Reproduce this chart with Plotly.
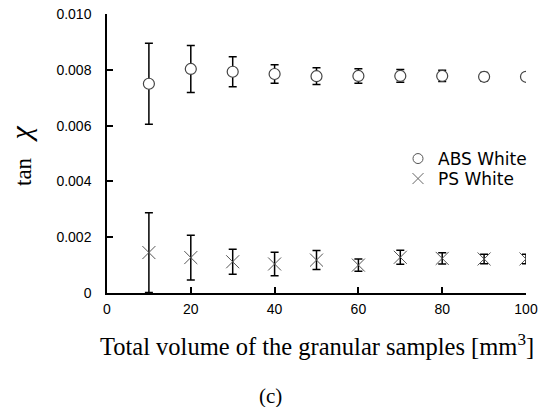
import plotly.graph_objects as go

volume = [10, 20, 30, 40, 50, 60, 70, 80, 90, 100]
abs_white = [0.00750, 0.00803, 0.00793, 0.00785, 0.00777, 0.00778, 0.00778, 0.00778, 0.00775, 0.00775]
abs_err = [0.00145, 0.00084, 0.00054, 0.00033, 0.00030, 0.00026, 0.00023, 0.00020, 0.00015, 0.00012]
ps_white = [0.00145, 0.00127, 0.00112, 0.00104, 0.00118, 0.00100, 0.00128, 0.00124, 0.00122, 0.00122]
ps_err = [0.00143, 0.00080, 0.00045, 0.00042, 0.00034, 0.00022, 0.00025, 0.00020, 0.00017, 0.00017]

x_ticks = [0, 20, 40, 60, 80, 100]
x_ticktext = ["0", "20", "40", "60", "80", "100"]
y_ticks = [0, 0.002, 0.004, 0.006, 0.008, 0.010]
y_ticktext = ["0", "0.002", "0.004", "0.006", "0.008", "0.010"]

L, R, T, B = 107, 15, 14, 114
W, H = 541, 407
PW, PH = W - L - R, H - T - B

def px(x):
    return (x - L) / PW

def py(y):
    return (H - B - y) / PH

fig = go.Figure()
err_style = dict(type="data", color="black", thickness=1.5, width=4, visible=True)

fig.add_trace(go.Scatter(
    x=volume, y=abs_white, mode="markers", showlegend=False,
    error_y=dict(array=abs_err, **err_style),
    marker=dict(symbol="circle", size=11, color="white", line=dict(color="#444444", width=1.2)),
))
fig.add_trace(go.Scatter(
    x=volume, y=ps_white, mode="markers", showlegend=False,
    error_y=dict(array=ps_err, **err_style),
    marker=dict(symbol="x-thin-open", size=13, color="#555555", line=dict(color="#555555", width=1)),
))
fig.add_trace(go.Scatter(
    x=[None], y=[None], mode="markers", name="ABS White", legend="legend",
    marker=dict(symbol="circle", size=10, color="white", line=dict(color="#555555", width=1)),
))
fig.add_trace(go.Scatter(
    x=[None], y=[None], mode="markers", name="PS White", legend="legend2",
    marker=dict(symbol="x-thin-open", size=11, color="#666666", line=dict(color="#666666", width=1)),
))

axis_common = dict(
    showgrid=False, zeroline=False, showline=True, linecolor="black", linewidth=1.5,
    ticks="inside", ticklen=6, tickwidth=1.5, tickcolor="black", automargin=False,
    tickfont=dict(family="Liberation Sans, Arial", size=14, color="black"),
    mirror=False,
)
fig.update_xaxes(range=[0, 100], tickvals=x_ticks, ticktext=x_ticktext, ticklabelstandoff=2, **axis_common)
fig.update_yaxes(range=[0, 0.010], tickvals=y_ticks, ticktext=y_ticktext, ticklabelstandoff=11, **axis_common)

serif = "Liberation Serif, Times New Roman"
fig.add_annotation(text="Total volume of the granular samples [mm<sup>3</sup>]",
                   xref="paper", yref="paper", x=px(317), y=py(345), xanchor="center", yanchor="middle",
                   showarrow=False, font=dict(family=serif, size=24.5, color="black"))
fig.add_annotation(text="(c)", xref="paper", yref="paper", x=px(270), y=py(396), xanchor="center", yanchor="middle",
                   showarrow=False, font=dict(family=serif, size=21, color="black"))
fig.add_annotation(text="tan", textangle=-90,
                   xref="paper", yref="paper", x=px(23), y=py(172), xanchor="center", yanchor="middle",
                   showarrow=False, font=dict(family=serif, size=23, color="black"))
fig.add_annotation(text="<i>χ</i>", textangle=-90,
                   xref="paper", yref="paper", x=px(1), y=py(134), xanchor="left", yanchor="middle",
                   showarrow=False, font=dict(family=serif, size=30, color="black"))

legend_common = dict(xanchor="left", yanchor="middle",
                     font=dict(family="DejaVu Sans", size=17, color="black"),
                     bgcolor="rgba(0,0,0,0)")
fig.update_layout(
    width=W, height=H, margin=dict(l=L, r=R, t=T, b=B, autoexpand=False),
    paper_bgcolor="white", plot_bgcolor="white", template="none",
    legend=dict(x=px(398), y=py(159), **legend_common),
    legend2=dict(x=px(398), y=py(179), **legend_common),
)

fig.write_html("out.html", config={"displayModeBar": False},
               post_script="document.body.style.margin='0';document.body.style.overflow='hidden';")
